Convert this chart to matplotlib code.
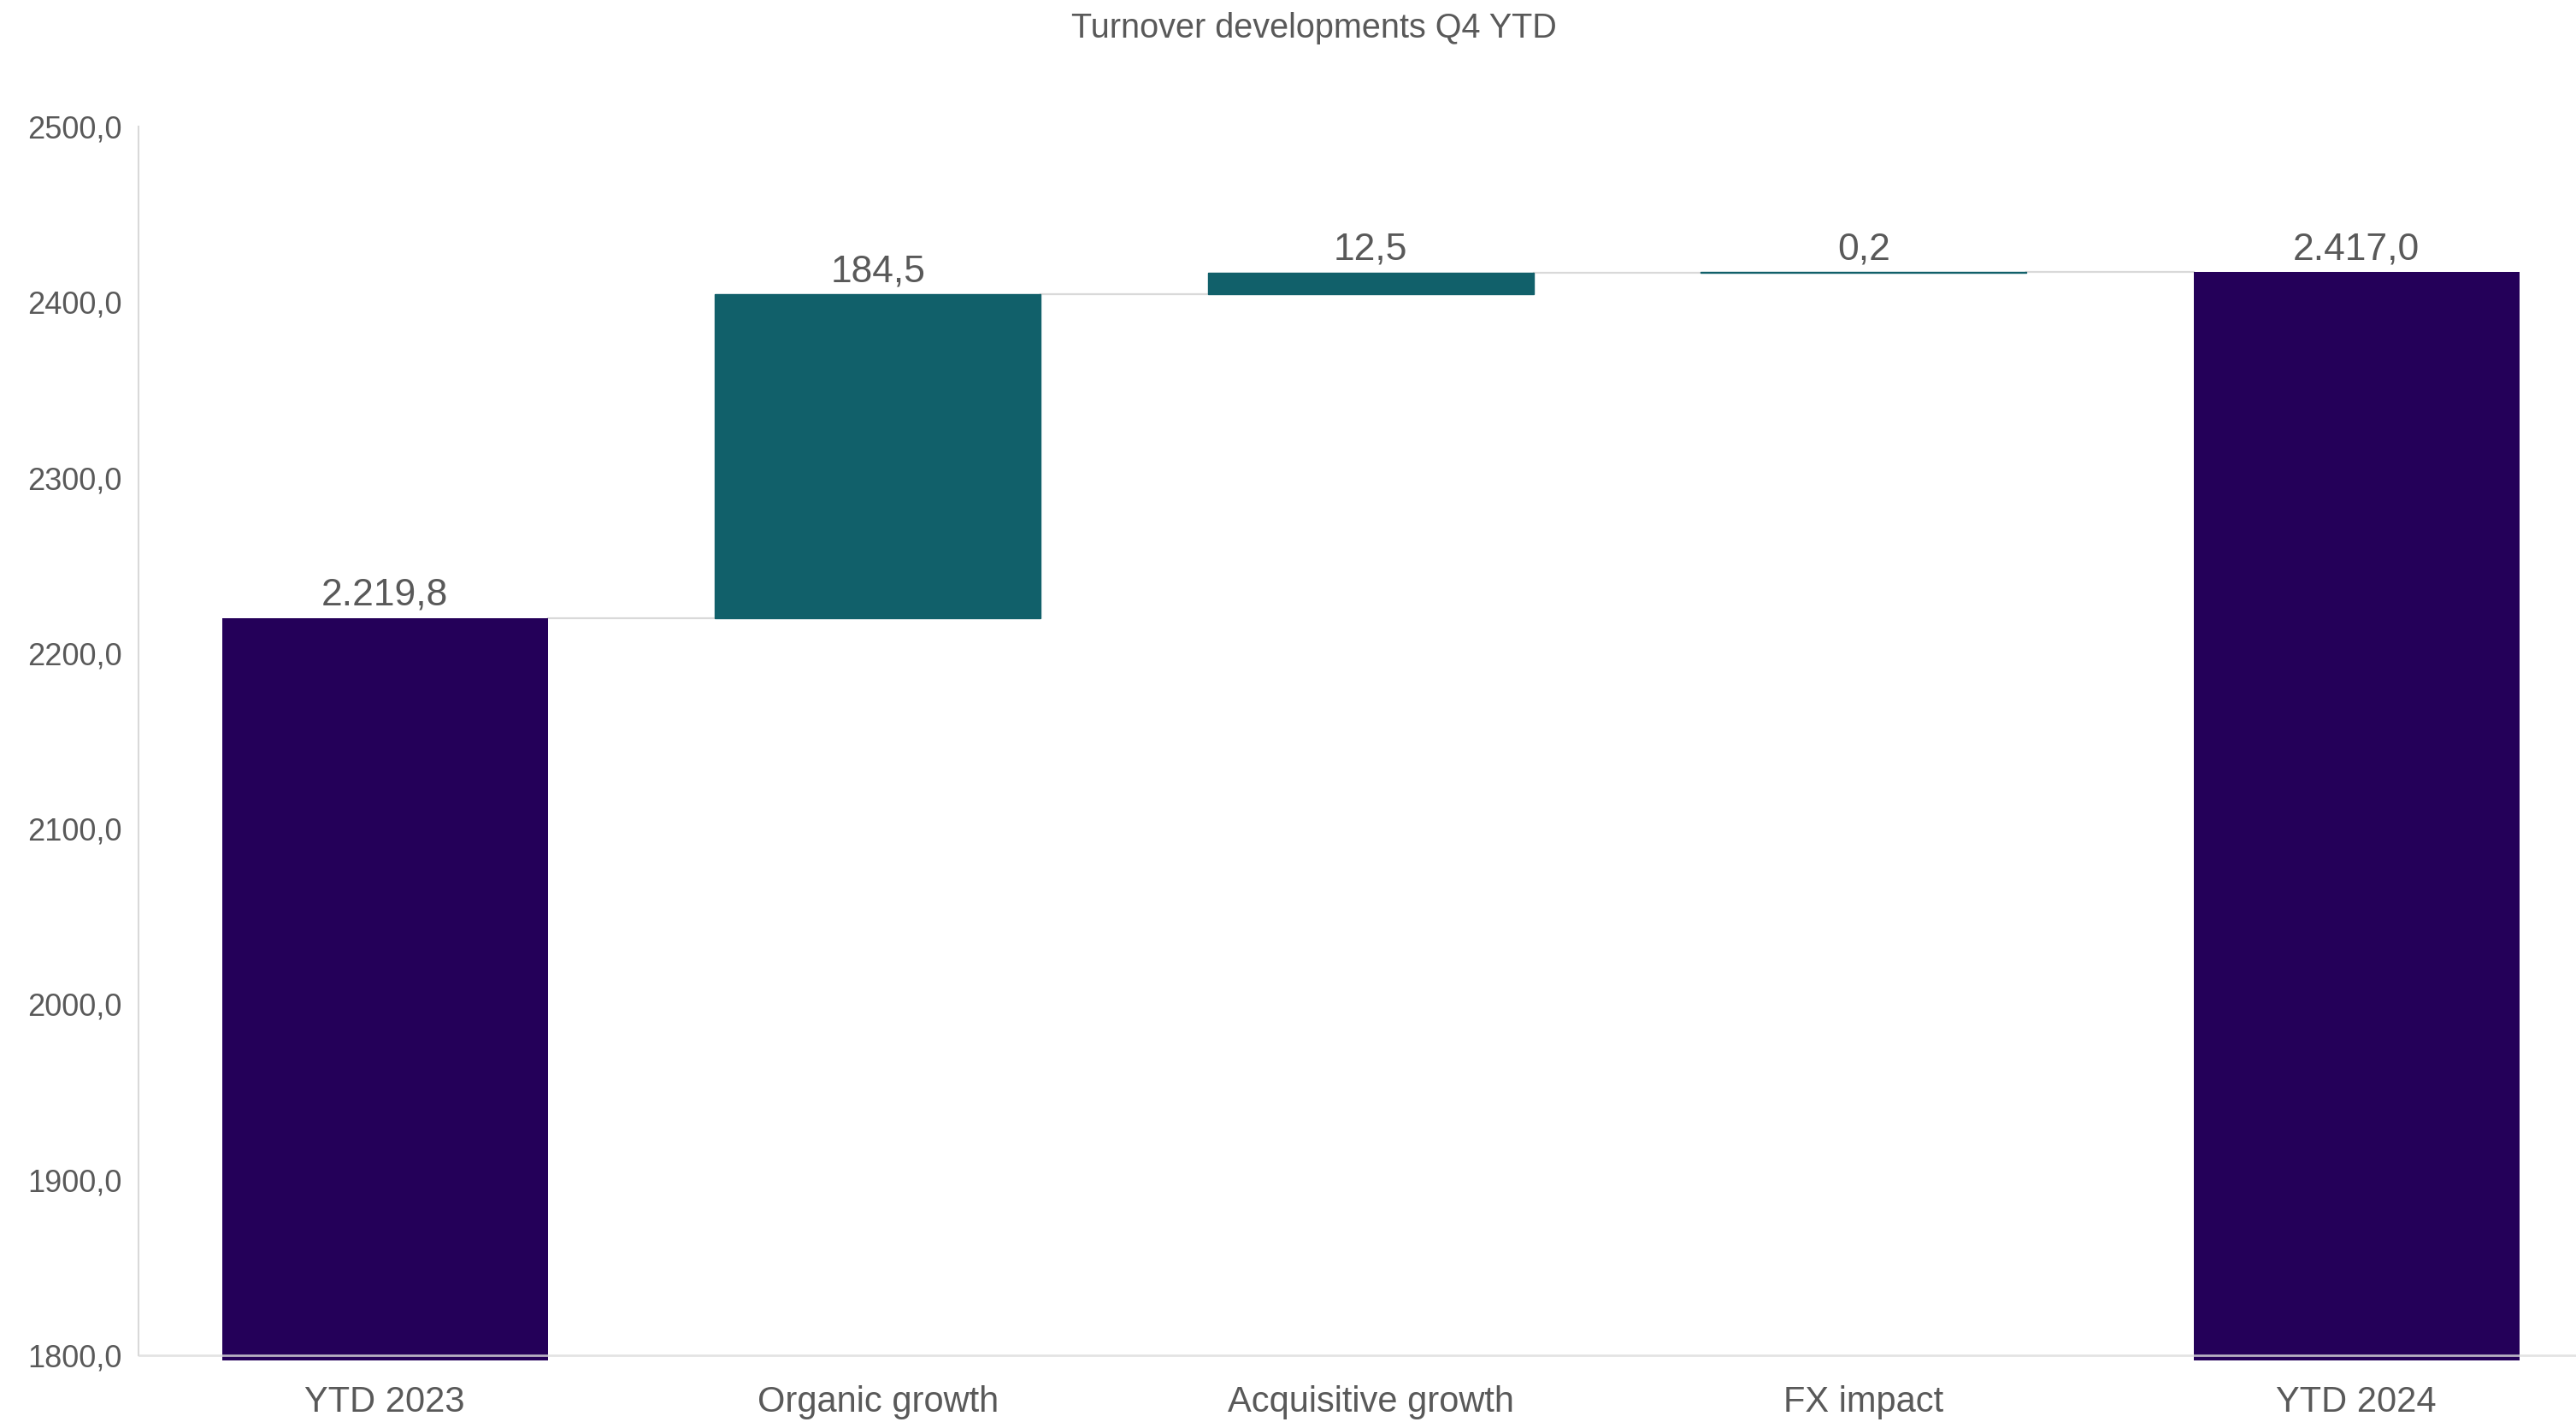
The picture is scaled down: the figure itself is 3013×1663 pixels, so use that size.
import matplotlib
matplotlib.use('Agg')
import matplotlib.pyplot as plt
import numpy as np

# data
categories = ['YTD 2023', 'Organic growth', 'Acquisitive growth', 'FX impact', 'YTD 2024']
start_total = 2219.8
changes = [184.5, 12.5, 0.2]
end_total = 2417.0
y_ticks = [1800, 1900, 2000, 2100, 2200, 2300, 2400, 2500]

purple = '#240059'
teal = '#11606A'
text_col = '#595959'
line_col = '#D9D9D9'

plt.rcParams['font.family'] = ['Liberation Sans', 'DejaVu Sans']

def fmt(v, sep=True):
    s = f"{v:,.1f}" if sep else f"{v:.1f}"
    return s.replace(',', 'X').replace('.', ',').replace('X', '.')

# waterfall geometry
values = [start_total] + changes + [end_total]
bottoms = [0]
running = start_total
for c in changes:
    bottoms.append(running)
    running += c
bottoms.append(0)
tops = [b + v for b, v in zip(bottoms, values)]
colors = [purple] + [teal] * len(changes) + [purple]

fig = plt.figure(figsize=(30.13, 16.63), dpi=100)
ax = fig.add_axes([162 / 3013, 72 / 1663, (3044.5 - 162) / 3013, (1591 - 148) / 1663])

x = np.arange(len(categories))
width = 0.661
ax.bar(x, values, width, bottom=bottoms, color=colors, zorder=2)
# thin bars still need to be visible
for i in range(1, len(categories) - 1):
    ax.bar(x[i], values[i], width, bottom=bottoms[i], color=teal, edgecolor=teal,
           linewidth=1, zorder=2)

# connectors
for i in range(len(categories) - 1):
    ax.plot([x[i] + width / 2, x[i + 1] - width / 2], [tops[i], tops[i]],
            color=line_col, lw=1.6, zorder=1)

# data labels
for i in range(len(categories)):
    ax.annotate(fmt(values[i]), (x[i], tops[i]), xytext=(0, 11), textcoords='offset points',
                ha='center', va='baseline', fontsize=32, color=text_col)

ax.set_xlim(-0.5, len(categories) - 0.5)
ax.set_ylim(1797, 2500)
ax.set_yticks(y_ticks)
ax.set_yticklabels([fmt(v, sep=False) for v in y_ticks])
ax.set_xticks(x)
ax.set_xticklabels(categories)
ax.tick_params(axis='x', length=0, pad=21, labelsize=30, labelcolor=text_col)
ax.tick_params(axis='y', length=0, pad=14, labelsize=26, labelcolor=text_col)

for s in ['top', 'right', 'bottom']:
    ax.spines[s].set_visible(False)
ax.spines['left'].set_color(line_col)
ax.spines['left'].set_linewidth(1.5)
ax.spines['left'].set_bounds(1800, 2500)
ax.axhline(1800, color='#DDDDDD', lw=2, alpha=0.8, zorder=3)

fig.text(0.51, 1 - 33 / 1663, 'Turnover developments Q4 YTD', ha='center', va='center',
         fontsize=28.5, color=text_col)

fig.savefig('out.png', dpi=100, facecolor='white')
